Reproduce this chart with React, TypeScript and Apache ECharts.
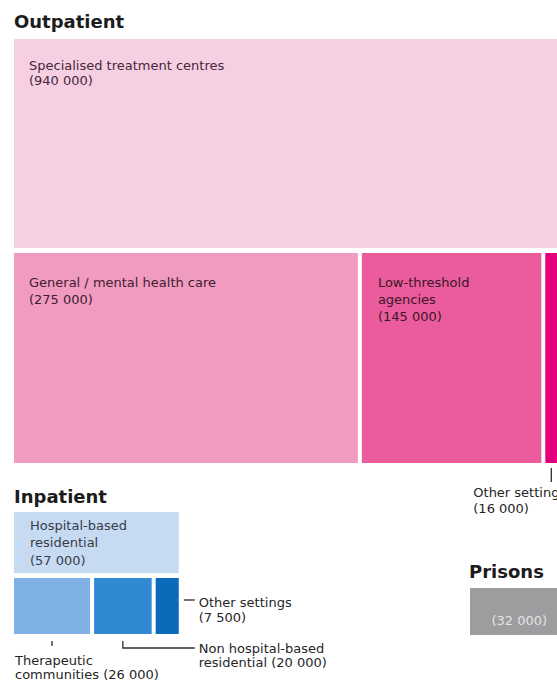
import React, { useEffect, useRef } from "react";
import * as echarts from "echarts";

// ---------- data ----------
const groupTitles = ["Outpatient", "Inpatient", "Prisons"];

const outpatientTopNames = ["Specialised treatment centres"];
const outpatientTopValues = [940000];
const outpatientBottomNames = ["General / mental health care", "Low-threshold\nagencies", "Other settings"];
const outpatientBottomValues = [275000, 145000, 16000];

const inpatientTopNames = ["Hospital-based\nresidential"];
const inpatientTopValues = [57000];
const inpatientBottomNames = ["Therapeutic\ncommunities", "Non hospital-based\nresidential", "Other settings"];
const inpatientBottomValues = [26000, 20000, 7500];

const prisonNames = [""];
const prisonValues = [32000];

// ---------- styles / layout ----------
const W = 557;
const H = 688;
const FONT = '"DejaVu Sans", "Liberation Sans", sans-serif';
const GAP = 4;
const OUT_SCALE = 1.265; // px per thousand
const IN_SCALE = 3.08;

const fmt = (v: number) => String(v).replace(/\B(?=(\d{3})+(?!\d))/g, " ");
const sumK = (a: number[]) => a.reduce((s, v) => s + v, 0) / 1000;

type LabelCfg = any;

interface Row {
  names: string[];
  values: number[];
  colors: string[];
  labels: LabelCfg[];
  grid: { left: number; top: number; height: number };
  total: number;
  scale: number;
  fullSpan?: boolean;
}

const outTotal = sumK(outpatientBottomValues);
const inTotal = sumK(inpatientBottomValues);
const prTotal = sumK(prisonValues);

const rows: Row[] = [
  {
    names: outpatientTopNames,
    values: outpatientTopValues,
    colors: ["#f7cfe2"],
    labels: [{ kind: "inside", dx: 15, dy: 19, lh: 15, color: "#45283a" }],
    grid: { left: 14, top: 39, height: 209 },
    total: outTotal,
    scale: OUT_SCALE,
    fullSpan: true,
  },
  {
    names: outpatientBottomNames,
    values: outpatientBottomValues,
    colors: ["#f19bc1", "#ea5c9b", "#e3007b"],
    labels: [
      { kind: "inside", dx: 15, dy: 21, lh: 17, color: "#40202f" },
      { kind: "inside", dx: 16, dy: 21, lh: 17, color: "#3a1627" },
      { kind: "tick", tickDx: 6, t1: 5, t2: 19, textDx: -72, textDy: 21, lh: 16, color: "#262626" },
    ],
    grid: { left: 14, top: 253, height: 210 },
    total: outTotal,
    scale: OUT_SCALE,
  },
  {
    names: inpatientTopNames,
    values: inpatientTopValues,
    colors: ["#c6daf2"],
    labels: [{ kind: "inside", dx: 16, dy: 4.5, lh: 17.5, color: "#363c48" }],
    grid: { left: 14, top: 512, height: 61 },
    total: inTotal,
    scale: IN_SCALE,
    fullSpan: true,
  },
  {
    names: inpatientBottomNames,
    values: inpatientBottomValues,
    colors: ["#80b1e4", "#3189d3", "#0b6bbb"],
    labels: [
      { kind: "tick", center: true, t1: 7, t2: 12, textDx: 1, textDy: 19, lh: 14, inline: true, color: "#262626" },
      { kind: "elbow", t1: 7, t2: 14, endDx: 16, textDx: 20, lh: 14, inline: true, color: "#262626" },
      { kind: "dash", dy: 22, x1: 5, x2: 16, textDx: 20, lh: 15, color: "#262626" },
    ],
    grid: { left: 14, top: 578, height: 56 },
    total: inTotal,
    scale: IN_SCALE,
  },
  {
    names: prisonNames,
    values: prisonValues,
    colors: ["#9d9d9f"],
    labels: [{ kind: "center", fy: 0.7, color: "#e4e4e4" }],
    grid: { left: 470, top: 588, height: 47 },
    total: prTotal,
    scale: IN_SCALE,
    fullSpan: true,
  },
];

const titleTops = [12.5, 487, 562];
const titleLefts = [14, 14, 469];

function labelText(name: string, value: number, inline?: boolean) {
  const v = "(" + fmt(value) + ")";
  if (!name) return v;
  return name + (inline ? " " : "\n") + v;
}

function buildOption() {
  const grids: any[] = [];
  const xAxes: any[] = [];
  const yAxes: any[] = [];
  const series: any[] = [];

  rows.forEach((row, ri) => {
    // the grid must stay inside the canvas; the axis keeps the same px-per-value scale
    const gridWidth = Math.min(row.total * row.scale, W - row.grid.left);
    const axisMax = gridWidth / row.scale;
    grids.push({
      left: row.grid.left,
      top: row.grid.top,
      height: row.grid.height,
      width: gridWidth,
      containLabel: false,
    });
    xAxes.push({ type: "value", gridIndex: ri, min: 0, max: axisMax, show: false });
    yAxes.push({ type: "value", gridIndex: ri, min: 0, max: 1, show: false });

    let acc = 0;
    const data = row.values.map((v, i) => {
      const start = row.fullSpan ? 0 : acc;
      const end = row.fullSpan ? row.total : acc + v / 1000;
      acc += v / 1000;
      return { name: row.names[i], value: [start, end, i] };
    });

    series.push({
      type: "custom",
      xAxisIndex: ri,
      yAxisIndex: ri,
      silent: true,
      clip: false,
      encode: { x: [0, 1] },
      data,
      renderItem: (params: any, api: any) => {
        const i = params.dataIndex;
        const last = i === row.values.length - 1;
        const p0 = api.coord([api.value(0), 1]);
        const p1 = api.coord([api.value(1), 0]);
        const pEnd = api.coord([row.total, 0]);
        const gap = last ? 0 : GAP;
        const x = p0[0];
        const y = p0[1];
        const w = p1[0] - p0[0] - gap;
        const h = p1[1] - p0[1];
        const cfg = row.labels[i];
        const name = row.names[i];
        const value = row.values[i];
        const children: any[] = [
          { type: "rect", shape: { x, y, width: w, height: h }, style: { fill: row.colors[i] } },
        ];
        const textStyle = (text: string, lh: number) => ({
          text,
          fill: cfg.color,
          font: `13px ${FONT}`,
          lineHeight: lh,
          align: "left",
          verticalAlign: "top",
        });
        const lineStyle = { stroke: "#2b2b2b", lineWidth: 1.3, fill: "none" };
        const txt = labelText(name, value, cfg.inline);
        if (cfg.kind === "inside") {
          children.push({ type: "text", x: x + cfg.dx, y: y + cfg.dy, style: textStyle(txt, cfg.lh) });
        } else if (cfg.kind === "center") {
          children.push({
            type: "text",
            x: x + w / 2,
            y: y + h * cfg.fy,
            style: { text: txt, fill: cfg.color, font: `13px ${FONT}`, align: "center", verticalAlign: "middle" },
          });
        } else if (cfg.kind === "tick") {
          const tx = cfg.center ? x + w / 2 : x + cfg.tickDx;
          children.push({
            type: "line",
            shape: { x1: tx, y1: y + h + cfg.t1, x2: tx, y2: y + h + cfg.t2 },
            style: lineStyle,
          });
          children.push({ type: "text", x: x + cfg.textDx, y: y + h + cfg.textDy, style: textStyle(txt, cfg.lh) });
        } else if (cfg.kind === "elbow") {
          const cx = x + w / 2;
          const yb = y + h + cfg.t2;
          children.push({
            type: "polyline",
            shape: { points: [[cx, y + h + cfg.t1], [cx, yb], [pEnd[0] + cfg.endDx, yb]] },
            style: lineStyle,
          });
          children.push({ type: "text", x: pEnd[0] + cfg.textDx, y: yb - cfg.lh / 2, style: textStyle(txt, cfg.lh) });
        } else if (cfg.kind === "dash") {
          const yd = y + cfg.dy;
          const xr = x + w;
          children.push({
            type: "line",
            shape: { x1: xr + cfg.x1, y1: yd, x2: xr + cfg.x2, y2: yd },
            style: lineStyle,
          });
          children.push({ type: "text", x: xr + cfg.textDx, y: yd + 2 - cfg.lh / 2, style: textStyle(txt, cfg.lh) });
        }
        return { type: "group", children };
      },
    });
  });

  return {
    animation: false,
    backgroundColor: "#ffffff",
    title: groupTitles.map((t, i) => ({
      text: t,
      left: titleLefts[i],
      top: titleTops[i],
      padding: 0,
      textStyle: { fontFamily: FONT, fontSize: 18, fontWeight: "bold", color: "#1c1c1c" },
    })),
    grid: grids,
    xAxis: xAxes,
    yAxis: yAxes,
    series,
  };
}

export default function App() {
  const ref = useRef<HTMLDivElement>(null);
  useEffect(() => {
    const chart = echarts.init(ref.current!, null, { renderer: "svg" });
    chart.setOption(buildOption() as any);
    return () => chart.dispose();
  }, []);
  return (
    <div
      ref={ref}
      style={{ position: "fixed", left: 0, top: 0, width: W, height: H, background: "#fff" }}
    />
  );
}
